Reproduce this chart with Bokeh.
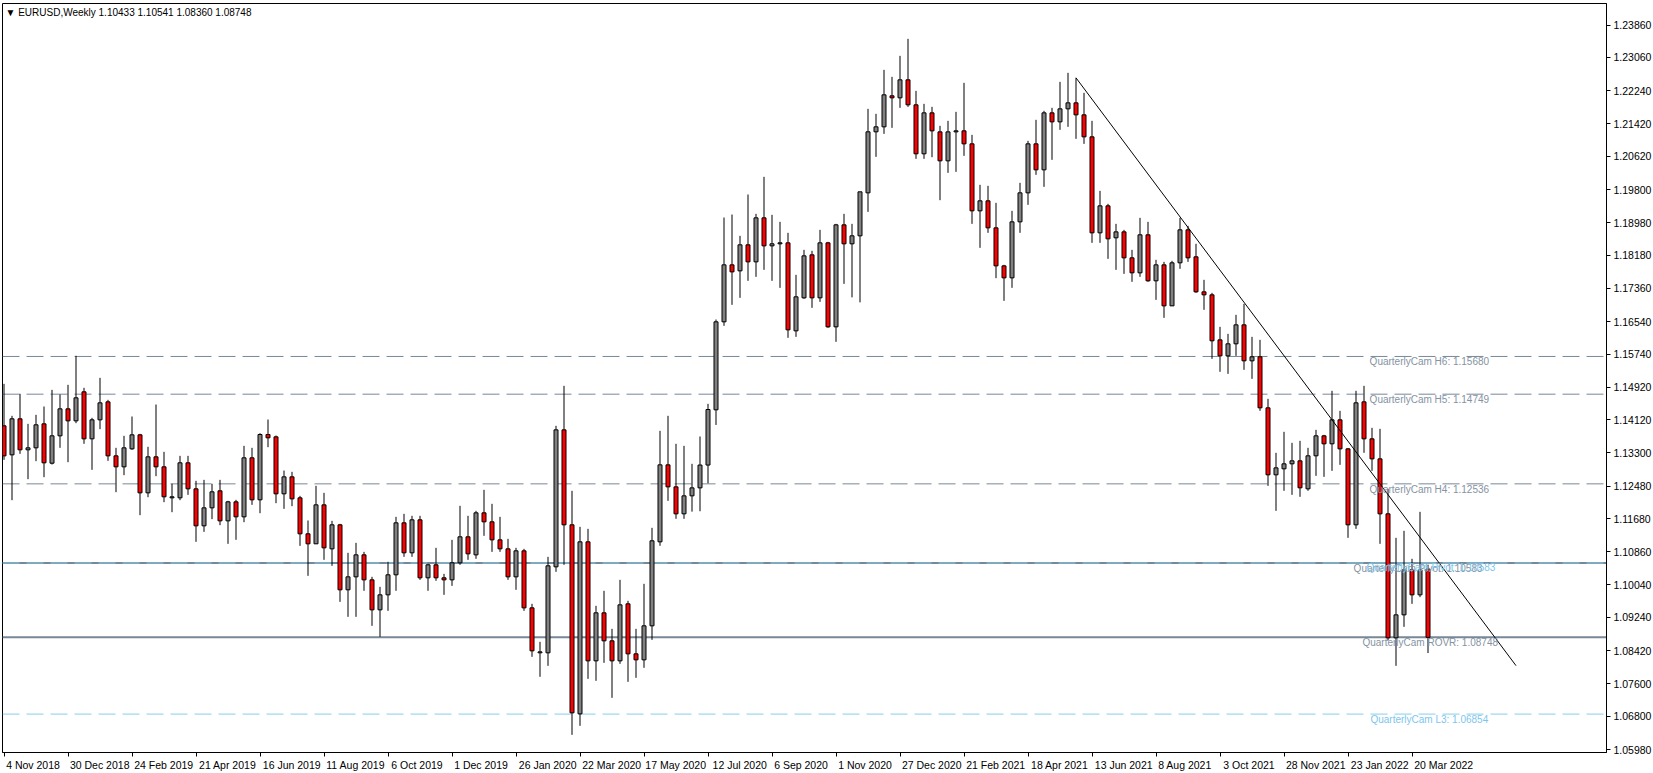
import pandas as pd
from bokeh.plotting import figure
from bokeh.models import (Range1d, FixedTicker, NumeralTickFormatter, CustomJSTickFormatter,
                          Span, Label, ColumnDataSource)
from bokeh.core.properties import value
from bokeh.embed import file_html
from bokeh.resources import INLINE

# ---------------- data ----------------
symbol = "EURUSD"
timeframe = "Weekly"
first_week = "2018-11-04"

opens = [1.13968, 1.13252, 1.14141, 1.13376, 1.13425, 1.14017, 1.13046, 1.13721, 1.14387, 1.14091,
         1.14807, 1.13647, 1.14116, 1.14560, 1.13227, 1.12956, 1.13400, 1.13746, 1.12314, 1.13203,
         1.12956, 1.12191, 1.12191, 1.13055, 1.12413, 1.11500, 1.11944, 1.12364, 1.11623, 1.12092,
         1.11722, 1.13178, 1.12142, 1.13754, 1.13696, 1.12290, 1.12709, 1.12191, 1.11303, 1.11056,
         1.12018, 1.10932, 1.11525, 1.09921, 1.10241, 1.10784, 1.10167, 1.09427, 1.09797, 1.10291,
         1.11574, 1.10834, 1.11648, 1.10217, 1.10538, 1.10217, 1.10167, 1.10587, 1.11229, 1.10784,
         1.11821, 1.11599, 1.11154, 1.10932, 1.10241, 1.10883, 1.09476, 1.08366, 1.08366, 1.10488,
         1.13869, 1.11525, 1.06860, 1.11105, 1.08168, 1.09353, 1.08662, 1.08168, 1.09575, 1.08341,
         1.08193, 1.09032, 1.11105, 1.13005, 1.12462, 1.11796, 1.12240, 1.12437, 1.13000, 1.14363,
         1.16535, 1.17941, 1.17793, 1.18435, 1.18015, 1.19101, 1.18410, 1.18460, 1.18484, 1.16312,
         1.17127, 1.18188, 1.17127, 1.18484, 1.16411, 1.18928, 1.18460, 1.18657, 1.19718, 1.21224,
         1.21347, 1.22112, 1.22063, 1.22507, 1.21890, 1.20681, 1.21692, 1.21223, 1.20508, 1.21223,
         1.21248, 1.20927, 1.19274, 1.19521, 1.18854, 1.17916, 1.17620, 1.19002, 1.19718, 1.20927,
         1.20286, 1.21692, 1.21470, 1.21791, 1.21939, 1.21643, 1.21100, 1.18731, 1.19397, 1.18608,
         1.18755, 1.18114, 1.17744, 1.18682, 1.17547, 1.17941, 1.16929, 1.17991, 1.18805, 1.18139,
         1.17275, 1.17201, 1.16090, 1.15695, 1.15992, 1.16460, 1.15572, 1.15671, 1.14412, 1.12759,
         1.12907, 1.13030, 1.13104, 1.12413, 1.13228, 1.13721, 1.13524, 1.14116, 1.13400, 1.11525,
         1.14560, 1.13647, 1.13153, 1.11796, 1.08736, 1.09303, 1.10414, 1.09797, 1.10433]
highs = [1.15004, 1.14215, 1.14758, 1.14017, 1.14239, 1.14445, 1.14856, 1.14741, 1.14980, 1.15696,
         1.14906, 1.14165, 1.15152, 1.14610, 1.13425, 1.13721, 1.14198, 1.13770, 1.13450, 1.14494,
         1.13326, 1.12537, 1.13227, 1.13227, 1.12611, 1.12635, 1.12537, 1.12635, 1.12117, 1.12142,
         1.13474, 1.13425, 1.13787, 1.14124, 1.13729, 1.12865, 1.12833, 1.12240, 1.11632, 1.12487,
         1.12314, 1.11623, 1.11549, 1.10834, 1.11080, 1.10858, 1.10241, 1.09994, 1.10612, 1.11722,
         1.11796, 1.11747, 1.11747, 1.10562, 1.10957, 1.10315, 1.11154, 1.11994, 1.11747, 1.11870,
         1.12389, 1.12043, 1.11722, 1.11179, 1.10957, 1.10932, 1.09575, 1.08637, 1.10735, 1.13968,
         1.14955, 1.12364, 1.11475, 1.11426, 1.09526, 1.09896, 1.08958, 1.10167, 1.09649, 1.08958,
         1.10069, 1.11451, 1.13844, 1.14215, 1.13524, 1.13474, 1.13030, 1.13705, 1.14511, 1.16592,
         1.19109, 1.19183, 1.18657, 1.19677, 1.19200, 1.20113, 1.19175, 1.19002, 1.18731, 1.17694,
         1.18311, 1.18287, 1.18805, 1.18509, 1.18953, 1.19200, 1.18953, 1.19743, 1.21791, 1.21668,
         1.22754, 1.22581, 1.23099, 1.23519, 1.22235, 1.21914, 1.21840, 1.21372, 1.21495, 1.21717,
         1.22433, 1.21149, 1.19916, 1.19891, 1.19471, 1.17941, 1.19274, 1.19965, 1.21001, 1.21520,
         1.21742, 1.21816, 1.22457, 1.22680, 1.22556, 1.22186, 1.21495, 1.19767, 1.19447, 1.18953,
         1.18805, 1.18311, 1.19101, 1.19002, 1.18065, 1.18015, 1.18040, 1.19101, 1.18904, 1.18460,
         1.17571, 1.17250, 1.16411, 1.16238, 1.16707, 1.16978, 1.16164, 1.16090, 1.14634, 1.13302,
         1.13820, 1.13548, 1.13598, 1.13425, 1.13869, 1.13746, 1.14832, 1.14338, 1.13420, 1.14832,
         1.14955, 1.13918, 1.13894, 1.12413, 1.11204, 1.11377, 1.10686, 1.11845, 1.10541]
lows = [1.13129, 1.12133, 1.13277, 1.12652, 1.13096, 1.12701, 1.13013, 1.13425, 1.13071, 1.14034,
        1.13524, 1.12882, 1.13886, 1.13104, 1.12331, 1.12750, 1.13376, 1.11763, 1.12207, 1.12726,
        1.12084, 1.11837, 1.12133, 1.12265, 1.11105, 1.11352, 1.11665, 1.11516, 1.11056, 1.11155,
        1.11590, 1.12018, 1.11812, 1.13441, 1.12059, 1.11919, 1.11985, 1.11006, 1.10266, 1.11056,
        1.10661, 1.10513, 1.09624, 1.09254, 1.09254, 1.09896, 1.09032, 1.08761, 1.09402, 1.09896,
        1.10735, 1.10735, 1.10167, 1.09896, 1.10143, 1.09797, 1.10019, 1.10538, 1.10661, 1.10686,
        1.11253, 1.10858, 1.10858, 1.10167, 1.09921, 1.09402, 1.08267, 1.07774, 1.08045, 1.10365,
        1.10538, 1.06342, 1.06564, 1.07724, 1.07675, 1.08119, 1.07255, 1.08094, 1.07650, 1.07749,
        1.07996, 1.08686, 1.11007, 1.12117, 1.11673, 1.11673, 1.11850, 1.11860, 1.12550, 1.13990,
        1.16436, 1.16954, 1.17127, 1.17546, 1.17645, 1.17818, 1.17546, 1.17373, 1.16140, 1.16164,
        1.17102, 1.16880, 1.17028, 1.16386, 1.16041, 1.17472, 1.17139, 1.17015, 1.19249, 1.20606,
        1.21174, 1.21322, 1.21816, 1.21840, 1.20557, 1.20557, 1.20598, 1.19537, 1.20212, 1.20236,
        1.20631, 1.18953, 1.18361, 1.18731, 1.17612, 1.17053, 1.17374, 1.18731, 1.19422, 1.20162,
        1.19866, 1.20533, 1.21273, 1.21347, 1.21051, 1.20927, 1.18484, 1.18484, 1.18089, 1.17817,
        1.17719, 1.17522, 1.17645, 1.17522, 1.17077, 1.16633, 1.16929, 1.17843, 1.18015, 1.17250,
        1.16831, 1.15621, 1.15301, 1.15251, 1.15695, 1.15350, 1.15128, 1.14338, 1.12487, 1.11870,
        1.12364, 1.12265, 1.12216, 1.12364, 1.12734, 1.12709, 1.12857, 1.13005, 1.11204, 1.11426,
        1.13302, 1.12857, 1.11056, 1.08670, 1.08045, 1.09007, 1.09575, 1.09740, 1.08360]
closes = [1.13227, 1.14141, 1.13376, 1.13425, 1.13993, 1.13055, 1.13721, 1.14387, 1.14091, 1.14659,
          1.13647, 1.14116, 1.14535, 1.13227, 1.12956, 1.13425, 1.13746, 1.12314, 1.13203, 1.12956,
          1.12216, 1.12216, 1.13055, 1.12413, 1.11500, 1.11944, 1.12339, 1.11623, 1.12092, 1.11722,
          1.13178, 1.12142, 1.13754, 1.13672, 1.12290, 1.12709, 1.12166, 1.11303, 1.11056, 1.12018,
          1.10957, 1.11525, 1.09921, 1.10241, 1.10784, 1.10167, 1.09427, 1.09797, 1.10291, 1.11574,
          1.10834, 1.11648, 1.10217, 1.10538, 1.10217, 1.10167, 1.10587, 1.11229, 1.10809, 1.11821,
          1.11599, 1.11154, 1.10932, 1.10241, 1.10883, 1.09476, 1.08415, 1.08390, 1.10513, 1.13869,
          1.11525, 1.06885, 1.11105, 1.08168, 1.09353, 1.08662, 1.08168, 1.09550, 1.08341, 1.08193,
          1.09032, 1.11130, 1.13005, 1.12462, 1.11796, 1.12240, 1.12437, 1.13000, 1.14371, 1.16535,
          1.17941, 1.17768, 1.18435, 1.18015, 1.19101, 1.18410, 1.18460, 1.18485, 1.16337, 1.17152,
          1.18163, 1.17127, 1.18484, 1.16411, 1.18928, 1.18460, 1.18657, 1.19743, 1.21224, 1.21347,
          1.22137, 1.22063, 1.22507, 1.21890, 1.20681, 1.21692, 1.21248, 1.20508, 1.21223, 1.21248,
          1.20927, 1.19274, 1.19521, 1.18854, 1.17916, 1.17620, 1.19002, 1.19718, 1.20927, 1.20286,
          1.21692, 1.21470, 1.21791, 1.21939, 1.21643, 1.21100, 1.18731, 1.19397, 1.18583, 1.18755,
          1.18114, 1.17744, 1.18682, 1.17547, 1.17941, 1.16929, 1.17991, 1.18805, 1.18114, 1.17275,
          1.17201, 1.16066, 1.15695, 1.15992, 1.16460, 1.15572, 1.15671, 1.14412, 1.12759, 1.12931,
          1.13030, 1.13104, 1.12438, 1.13228, 1.13721, 1.13524, 1.14116, 1.13400, 1.11525, 1.14536,
          1.13647, 1.13153, 1.11796, 1.08736, 1.09303, 1.10414, 1.09797, 1.10414, 1.08748]

price_ticks = [1.23860, 1.23060, 1.22240, 1.21420, 1.20620, 1.19800, 1.18980, 1.18180, 1.17360,
               1.16540, 1.15740, 1.14920, 1.14120, 1.13300, 1.12480, 1.11680, 1.10860, 1.10040,
               1.09240, 1.08420, 1.07600, 1.06800, 1.05980]
price_min, price_max = 1.05906, 1.24391

level_names = ["H6", "H5", "H4", "Pivot", "ROVR", "L3"]
level_values = [1.15680, 1.14749, 1.12536, 1.10583, 1.08748, 1.06854]

trend_dates = ["2021-05-30", "2022-06-19"]
trend_prices = [1.22556, 1.08050]

# ---------------- derived ----------------
n = len(opens)
weeks = pd.date_range(first_week, periods=n, freq="7D")
idx = list(range(n))
bull = [c >= o for o, c in zip(opens, closes)]
src = ColumnDataSource(dict(
    x=idx, o=opens, h=highs, l=lows, c=closes,
    top=[max(o, c) for o, c in zip(opens, closes)],
    bottom=[min(o, c) for o, c in zip(opens, closes)],
    fill=["#808080" if b else "#ff0000" for b in bull],
))

BAR_PX = 8
FRAME_W, FRAME_H = 1604, 749
x_start = -0.1875
x_end = x_start + FRAME_W / BAR_PX

FONT = "Liberation Sans"

p = figure(frame_width=FRAME_W, frame_height=FRAME_H, y_axis_location="right",
           x_range=Range1d(x_start, x_end), y_range=Range1d(price_min, price_max),
           output_backend="svg", toolbar_location=None,
           min_border_left=2, min_border_top=3, min_border_right=1, min_border_bottom=0)
p.background_fill_color = "white"
p.border_fill_color = "white"
p.outline_line_color = "black"
p.outline_line_width = 1
p.outline_line_alpha = 1
p.xgrid.visible = False
p.ygrid.visible = False

# level lines (behind candles)
GRAY = "#778899"
SKY = "#87ceeb"
dash_colors = {"H6": GRAY, "H5": GRAY, "H4": GRAY, "Pivot": SKY, "L3": SKY}
for name, val in zip(level_names, level_values):
    if name in ("Pivot", "ROVR"):
        p.add_layout(Span(location=val, dimension="width", line_color=GRAY,
                          line_width=2, level="underlay"))
    if name in dash_colors:
        p.add_layout(Span(location=val, dimension="width", line_color=dash_colors[name],
                          line_width=1, line_dash="17 7", level="underlay"))

# candles
p.segment(x0="x", y0="l", x1="x", y1="h", source=src, line_color="black", line_width=1)
p.vbar(x="x", width=0.5, top="top", bottom="bottom", source=src,
       fill_color="fill", line_color="black", line_width=1)

# trend line
trend_x = [(pd.Timestamp(d) - weeks[0]).days / 7 for d in trend_dates]
p.line(trend_x, trend_prices, line_color="black", line_width=1)

# level labels
TXT_GRAY = "#8593a2"
TXT_SKY = "#7cc6ee"
lab_names = level_names + ["Pivot"]
lab_vals = level_values + [level_values[level_names.index("Pivot")]]
lab_text = ["QuarterlyCam %s:  %.5f" % (nm, v) for nm, v in zip(lab_names, lab_vals)]
lab_x = [170.7, 170.7, 170.7, 170.3, 169.8, 170.8, 168.7]
lab_col = [TXT_GRAY, TXT_GRAY, TXT_GRAY, TXT_SKY, TXT_GRAY, TXT_SKY, TXT_GRAY]
lab_dy = [0, 0, 0, -1, 0, 0, 0]
p.text(x=lab_x[-1:], y=lab_vals[-1:], text=lab_text[-1:], text_color=lab_col[-1:],
       text_font=value(FONT), text_font_size="10px", text_baseline="top", text_align="left",
       y_offset=0)
p.text(x=lab_x[:-1], y=lab_vals[:-1], text=lab_text[:-1], text_color=lab_col[:-1],
       text_font=value(FONT), text_font_size="10px", text_baseline="top", text_align="left",
       y_offset=lab_dy[:-1])

# y axis (right)
ya = p.yaxis[0]
ya.ticker = FixedTicker(ticks=price_ticks)
ya.formatter = NumeralTickFormatter(format="0.00000")
ya.major_tick_out = 4
ya.major_tick_in = 0
ya.minor_tick_out = 0
ya.minor_tick_in = 0
ya.major_label_standoff = 3
ya.axis_line_color = "black"
ya.major_tick_line_color = "black"
ya.major_label_text_font = FONT
ya.major_label_text_font_size = "10.5px"
ya.major_label_text_color = "black"

# x axis: tick marks at label weeks, labels placed to the right of each tick
label_weeks = list(range(0, n, 8))
label_texts = [f"{weeks[i].day} {weeks[i].strftime('%b %Y')}" for i in label_weeks]
label_pos = [i + (2 + 5.4 * len(t) / 2) / BAR_PX for i, t in zip(label_weeks, label_texts)]
xa = p.xaxis[0]
xa.ticker = FixedTicker(ticks=label_pos, minor_ticks=label_weeks)
xa.formatter = CustomJSTickFormatter(args=dict(pos=label_pos, labs=label_texts), code="""
    for (let k = 0; k < pos.length; k++) { if (Math.abs(pos[k] - tick) < 1e-6) return labs[k]; }
    return '';
""")
xa.major_tick_out = 0
xa.major_tick_in = 0
xa.minor_tick_out = 4
xa.minor_tick_in = 0
xa.minor_tick_line_color = "black"
xa.major_label_standoff = 2
xa.axis_line_color = "black"
xa.major_label_text_font = FONT
xa.major_label_text_font_size = "10.5px"
xa.major_label_text_color = "black"

# current price tag on the price axis
last_close = closes[-1]
p.add_layout(Label(x=FRAME_W + 3, y=last_close, x_units="screen", y_units="data",
                   text="%.5f" % last_close, text_color="white", text_font=FONT,
                   text_font_size="10.5px", text_baseline="middle", text_align="left",
                   background_fill_color="black", padding=1))

# title
title = "\u25bc %s,%s  %.5f %.5f %.5f %.5f" % (symbol, timeframe, opens[-1], highs[-1],
                                             lows[-1], closes[-1])
p.add_layout(Label(x=3, y=FRAME_H - 3, x_units="screen", y_units="screen", text=title,
                   text_color="black", text_font=FONT, text_font_size="10px",
                   text_baseline="top", text_align="left"))

open("out.html", "w").write(file_html(p, INLINE))
